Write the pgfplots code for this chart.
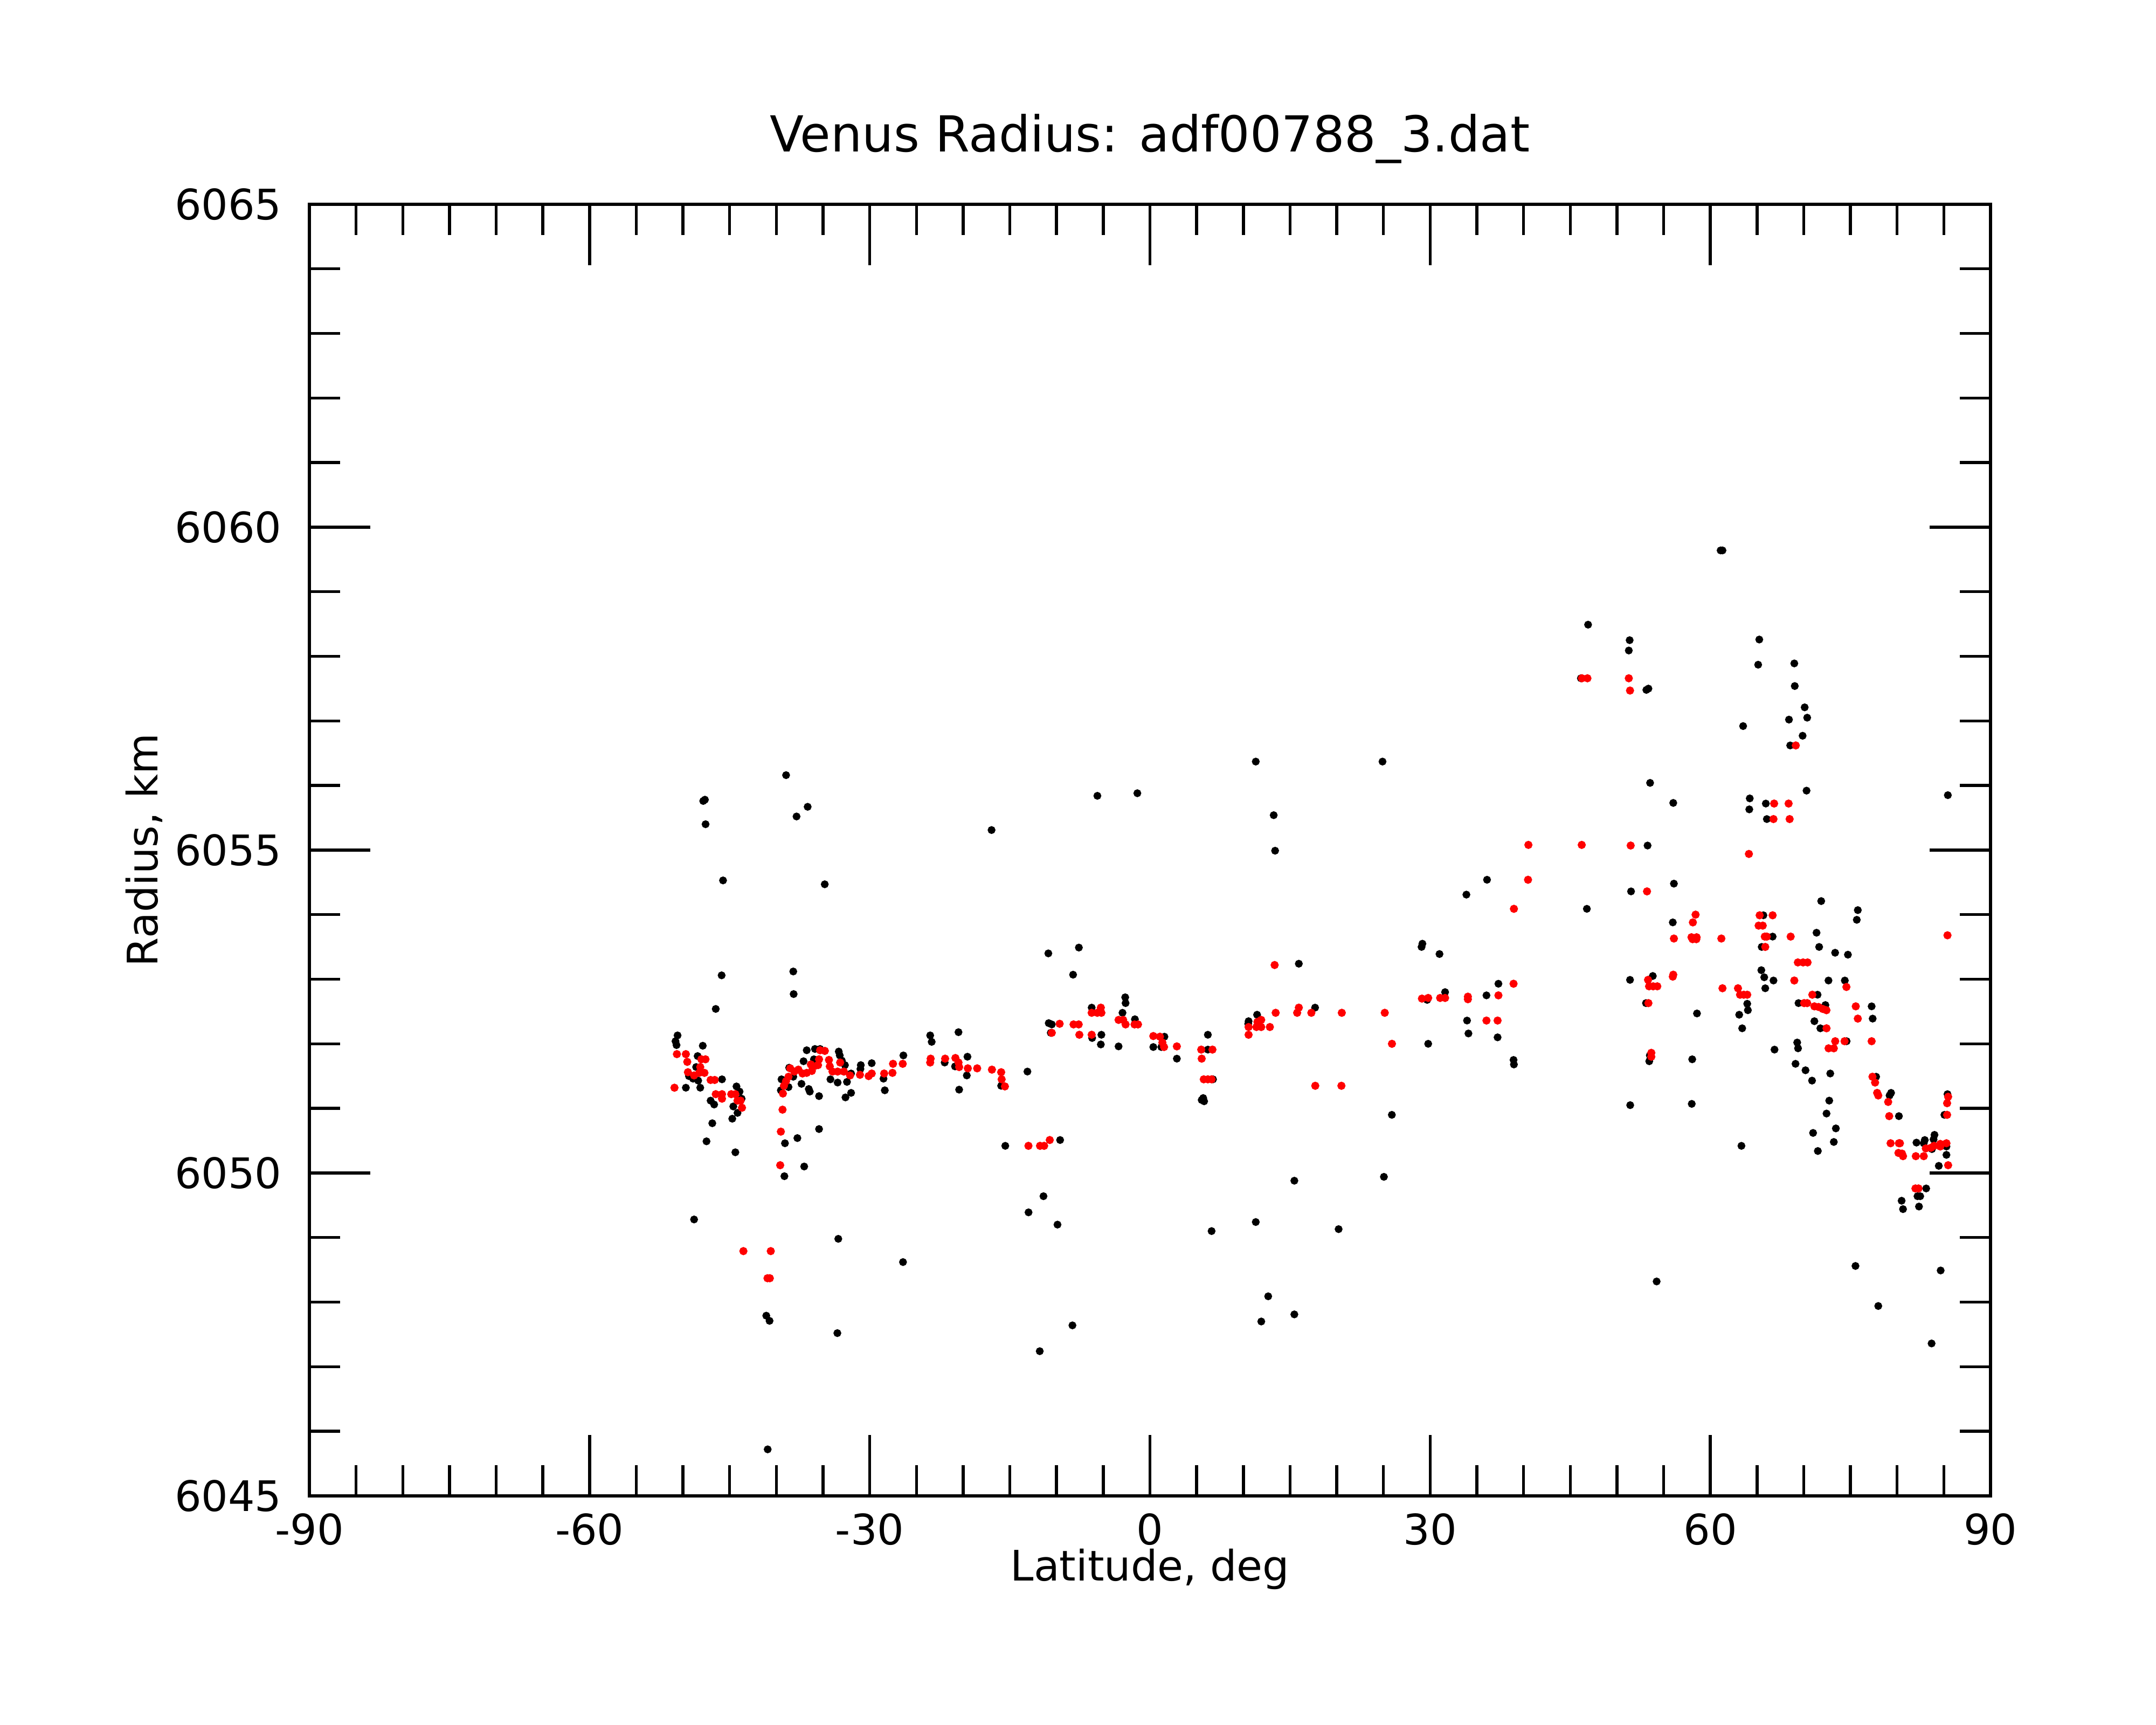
\documentclass[border=0pt]{standalone}
\usepackage{fontspec}
\setmainfont{DejaVu Sans}
\usepackage{pgfplots}
\pgfplotsset{compat=1.18}
\begin{document}
\begin{tikzpicture}
\path[use as bounding box] (-57.4pt,-42.5pt) rectangle (342.6pt,277.5pt);
\begin{axis}[
  at={(0,0)}, anchor=south west,
  scale only axis, width=311.9pt, height=239.6pt,
  xmin=-90, xmax=90, ymin=6045, ymax=6065,
  xtick={-90,-60,-30,0,30,60,90},
  xticklabels={-90,-60,-30,0,30,60,90},
  ytick={6045,6050,6055,6060,6065},
  yticklabels={6045,6050,6055,6060,6065},
  minor x tick num=5, minor y tick num=4,
  tick align=inside,
  major tick length=11.3pt, minor tick length=5.7pt,
  every tick/.append style={line width=0.55pt, black},
  axis line style={line width=0.6pt},
  tick label style={font=\fontsize{7.8}{9}\selectfont},
  xticklabel style={yshift=0.3pt},
  yticklabel style={xshift=-1.6pt},
  label style={font=\fontsize{7.8}{9}\selectfont},
  xlabel={Latitude, deg},
  ylabel={Radius, km},
  xlabel style={at={(axis description cs:0.5,-0.0659)}, anchor=base},
  ylabel style={at={(axis description cs:-0.0901,0.5)}, anchor=base},
  title={Venus Radius: adf00788\_3.dat},
  every axis title/.style={font=\fontsize{9.2}{11}\selectfont, at={(axis description cs:0.5,1.0405)}, anchor=base},
  clip=false,
]
\addplot[only marks, mark=*, mark size=0.52pt, black, mark options={draw=none, fill=black}] table {
x y
-46.49 6052.54
-50.58 6052.13
-50.80 6052.04
-50.69 6051.98
-47.88 6051.97
-48.43 6051.81
-48.59 6051.64
-49.69 6051.32
-49.36 6051.50
-48.92 6051.46
-48.37 6051.43
-48.15 6051.32
-45.82 6051.45
-47.04 6051.12
-46.66 6051.06
-44.27 6051.34
-43.94 6051.26
-43.72 6051.15
-44.61 6051.03
-44.16 6050.93
-44.72 6050.84
-46.86 6050.77
-47.48 6050.49
-44.39 6050.32
-48.81 6049.28
-47.83 6055.76
-47.65 6055.78
-47.58 6055.40
-45.71 6054.53
-45.86 6053.06
-39.45 6051.45
-39.52 6051.28
-38.70 6051.33
-38.63 6051.63
-38.19 6051.49
-37.31 6051.38
-37.09 6051.73
-36.75 6051.90
-36.53 6051.30
-36.42 6051.26
-35.87 6051.92
-35.98 6051.76
-35.32 6051.92
-35.43 6051.19
-35.43 6050.68
-39.08 6050.46
-37.75 6050.54
-37.02 6050.10
-39.14 6049.95
-33.32 6051.88
-33.21 6051.82
-32.99 6051.74
-32.66 6051.67
-34.21 6051.45
-33.44 6051.40
-32.44 6051.41
-32.00 6051.54
-32.00 6051.24
-32.60 6051.17
-30.96 6051.67
-31.00 6051.61
-29.79 6051.70
-28.53 6051.46
-28.39 6051.28
-26.40 6051.82
-23.53 6052.13
-23.37 6052.03
-20.50 6052.18
-19.54 6051.80
-21.98 6051.71
-20.87 6051.65
-19.61 6051.51
-20.43 6051.29
-38.96 6056.16
-37.84 6055.52
-36.65 6055.67
-34.82 6054.47
-38.19 6053.12
-38.15 6052.77
-33.37 6048.98
-41.08 6047.79
-40.73 6047.71
-33.47 6047.52
-26.44 6048.62
-40.93 6045.72
-10.88 6053.40
-7.61 6053.49
-8.23 6053.07
-2.65 6052.72
-2.61 6052.63
-6.24 6052.56
-10.84 6052.32
-10.51 6052.30
-10.62 6052.17
-6.19 6052.09
-5.20 6052.14
-5.26 6051.99
-3.36 6051.96
-2.94 6052.48
-1.61 6052.38
0.36 6051.95
1.55 6052.11
1.22 6051.95
2.88 6051.77
6.20 6052.14
6.20 6051.91
5.54 6051.13
5.80 6051.11
5.70 6051.16
6.75 6051.45
11.47 6052.45
10.56 6052.35
10.52 6052.31
15.94 6053.24
-13.12 6051.57
-15.93 6051.35
-15.49 6050.42
-9.62 6050.51
-16.96 6055.31
-5.63 6055.84
-1.35 6055.88
-13.00 6049.39
-11.40 6049.64
-9.90 6049.20
-8.30 6047.64
-11.80 6047.24
6.60 6049.10
11.33 6056.37
13.25 6055.54
13.40 6054.99
11.33 6049.24
12.66 6048.09
11.92 6047.70
15.46 6049.88
15.46 6047.81
17.68 6052.56
36.09 6054.54
33.88 6054.31
46.78 6054.09
29.17 6053.55
29.08 6053.50
31.00 6053.39
31.60 6052.80
29.68 6052.68
37.31 6052.93
36.03 6052.75
33.95 6052.36
34.10 6052.16
37.22 6052.10
29.79 6052.00
38.93 6051.75
38.97 6051.68
25.90 6050.90
25.05 6049.94
20.20 6049.13
24.90 6056.37
61.10 6059.64
61.30 6059.64
46.91 6058.49
51.36 6058.25
51.27 6058.09
46.14 6057.66
53.15 6057.48
53.37 6057.50
65.24 6058.26
65.12 6057.87
68.99 6057.89
69.04 6057.54
70.10 6057.21
70.37 6057.05
68.42 6057.02
63.51 6056.92
69.88 6056.77
68.55 6056.62
53.55 6056.04
56.03 6055.73
70.30 6055.92
64.22 6055.80
64.17 6055.63
65.94 6055.72
66.05 6055.48
53.28 6055.07
56.10 6054.48
51.51 6054.36
71.87 6054.21
75.79 6054.07
75.68 6053.92
55.98 6053.88
65.68 6053.99
66.67 6053.66
71.37 6053.72
71.65 6053.50
73.36 6053.41
74.73 6053.38
65.50 6053.50
65.46 6053.14
65.77 6053.03
66.76 6052.98
65.88 6052.86
72.65 6052.98
74.40 6052.98
71.48 6052.76
69.44 6052.63
72.32 6052.60
71.14 6052.35
53.84 6053.05
51.40 6052.99
53.11 6052.63
63.95 6052.62
64.02 6052.52
63.09 6052.45
58.57 6052.47
85.43 6055.85
77.27 6052.58
77.38 6052.39
63.41 6052.24
71.78 6052.24
69.30 6052.02
69.39 6051.93
66.87 6051.91
74.59 6052.04
53.52 6051.82
53.46 6051.73
58.06 6051.76
69.12 6051.69
70.19 6051.59
72.84 6051.54
70.89 6051.43
77.75 6051.49
79.35 6051.24
79.19 6051.20
72.73 6051.12
72.44 6050.92
51.42 6051.05
58.01 6051.07
80.19 6050.88
73.44 6050.69
71.00 6050.62
73.22 6050.48
71.51 6050.34
63.33 6050.42
85.39 6051.22
85.06 6050.90
82.07 6050.47
82.96 6050.51
82.85 6050.46
84.00 6050.59
83.90 6050.52
85.28 6050.41
85.28 6050.28
84.46 6050.11
83.73 6050.37
83.11 6049.76
82.18 6049.64
82.47 6049.64
80.48 6049.57
80.63 6049.44
82.34 6049.48
75.54 6048.56
84.66 6048.49
54.25 6048.32
77.98 6047.94
83.69 6047.36
};
\addplot[only marks, mark=*, mark size=0.55pt, red, mark options={draw=none, fill=red}] table {
x y
-50.91 6051.32
-50.65 6051.84
-49.69 6051.84
-49.54 6051.72
-48.03 6051.76
-47.59 6051.76
-48.15 6051.64
-49.47 6051.56
-48.81 6051.51
-48.26 6051.55
-47.70 6051.55
-47.04 6051.44
-46.60 6051.44
-46.49 6051.22
-45.82 6051.22
-45.82 6051.15
-44.83 6051.22
-44.39 6051.22
-44.16 6051.12
-43.83 6051.12
-43.68 6051.01
-43.53 6048.79
-40.60 6048.79
-40.95 6048.37
-40.70 6048.37
-39.30 6051.23
-39.34 6050.98
-39.52 6050.64
-39.59 6050.12
-39.19 6051.35
-38.97 6051.42
-38.70 6051.49
-38.52 6051.62
-38.08 6051.57
-37.64 6051.60
-37.20 6051.54
-36.75 6051.55
-36.20 6051.58
-35.98 6051.65
-36.31 6051.68
-35.54 6051.67
-35.43 6051.76
-35.32 6051.90
-34.81 6051.89
-34.37 6051.75
-34.28 6051.65
-33.99 6051.57
-33.44 6051.57
-32.77 6051.57
-33.17 6051.71
-32.11 6051.51
-31.05 6051.52
-30.12 6051.50
-29.79 6051.54
-28.46 6051.54
-27.57 6051.55
-27.51 6051.69
-26.47 6051.69
-23.48 6051.77
-23.53 6051.71
-21.93 6051.77
-20.83 6051.78
-20.50 6051.71
-20.43 6051.64
-19.50 6051.62
-18.50 6051.62
-16.92 6051.60
-15.93 6051.56
-15.88 6051.45
-15.53 6051.34
-13.01 6050.42
-11.77 6050.42
-11.33 6050.42
-10.73 6050.51
-9.67 6052.31
-10.51 6052.17
-8.18 6052.30
-7.63 6052.30
-7.56 6052.14
-6.24 6052.48
-5.64 6052.48
-5.26 6052.56
-5.20 6052.48
-6.24 6052.14
-3.36 6052.37
-2.87 6052.37
-2.61 6052.30
-1.65 6052.30
-1.28 6052.30
0.36 6052.12
1.07 6052.11
1.33 6052.02
1.51 6051.95
2.88 6051.96
5.49 6051.91
6.69 6051.91
5.54 6051.77
5.76 6051.45
6.20 6051.45
6.60 6051.45
10.56 6052.26
10.56 6052.14
11.51 6052.34
11.91 6052.37
11.91 6052.26
11.40 6052.26
12.84 6052.26
13.35 6053.22
13.46 6052.48
15.94 6052.56
15.76 6052.48
40.52 6055.08
46.23 6055.08
40.48 6054.54
38.97 6054.09
17.28 6052.48
20.54 6052.48
25.14 6052.48
25.91 6052.00
29.12 6052.70
29.79 6052.71
31.07 6052.71
31.60 6052.71
34.04 6052.73
34.04 6052.69
37.31 6052.75
38.93 6052.93
36.03 6052.36
37.22 6052.36
17.70 6051.35
20.50 6051.35
46.25 6057.66
46.84 6057.66
51.27 6057.66
51.40 6057.47
69.15 6056.62
51.47 6055.07
64.13 6054.94
53.22 6054.36
66.83 6055.72
68.38 6055.72
66.76 6055.48
68.49 6055.48
58.42 6054.00
58.13 6053.88
56.10 6053.63
57.98 6053.65
58.53 6053.65
58.10 6053.62
58.50 6053.62
61.18 6053.63
65.28 6053.99
66.67 6053.99
65.17 6053.83
65.61 6053.83
65.83 6053.66
66.05 6053.66
68.60 6053.66
65.88 6053.50
69.37 6053.26
69.93 6053.26
70.41 6053.26
68.99 6052.98
74.57 6052.88
53.33 6052.99
55.98 6053.04
56.03 6053.07
53.44 6052.89
53.88 6052.89
54.32 6052.89
53.37 6052.63
61.30 6052.86
62.96 6052.86
63.18 6052.76
63.58 6052.76
63.95 6052.76
70.92 6052.76
70.04 6052.63
70.37 6052.63
71.14 6052.58
71.59 6052.57
72.03 6052.54
72.43 6052.52
75.57 6052.58
75.79 6052.39
72.44 6052.24
73.37 6052.04
74.37 6052.04
77.27 6052.04
72.66 6051.93
73.22 6051.93
53.68 6051.86
53.68 6051.80
77.36 6051.49
77.64 6051.40
77.86 6051.24
77.98 6051.20
79.04 6051.10
79.15 6050.88
85.46 6051.18
85.35 6051.08
85.35 6050.90
79.30 6050.46
80.19 6050.46
80.30 6050.46
80.14 6050.31
80.52 6050.30
80.63 6050.26
82.00 6050.26
82.85 6050.26
83.07 6050.38
83.62 6050.39
83.95 6050.42
84.62 6050.41
84.62 6050.45
85.28 6050.46
85.46 6050.12
81.96 6049.76
82.29 6049.76
85.39 6053.68
};
\end{axis}
\end{tikzpicture}
\end{document}
